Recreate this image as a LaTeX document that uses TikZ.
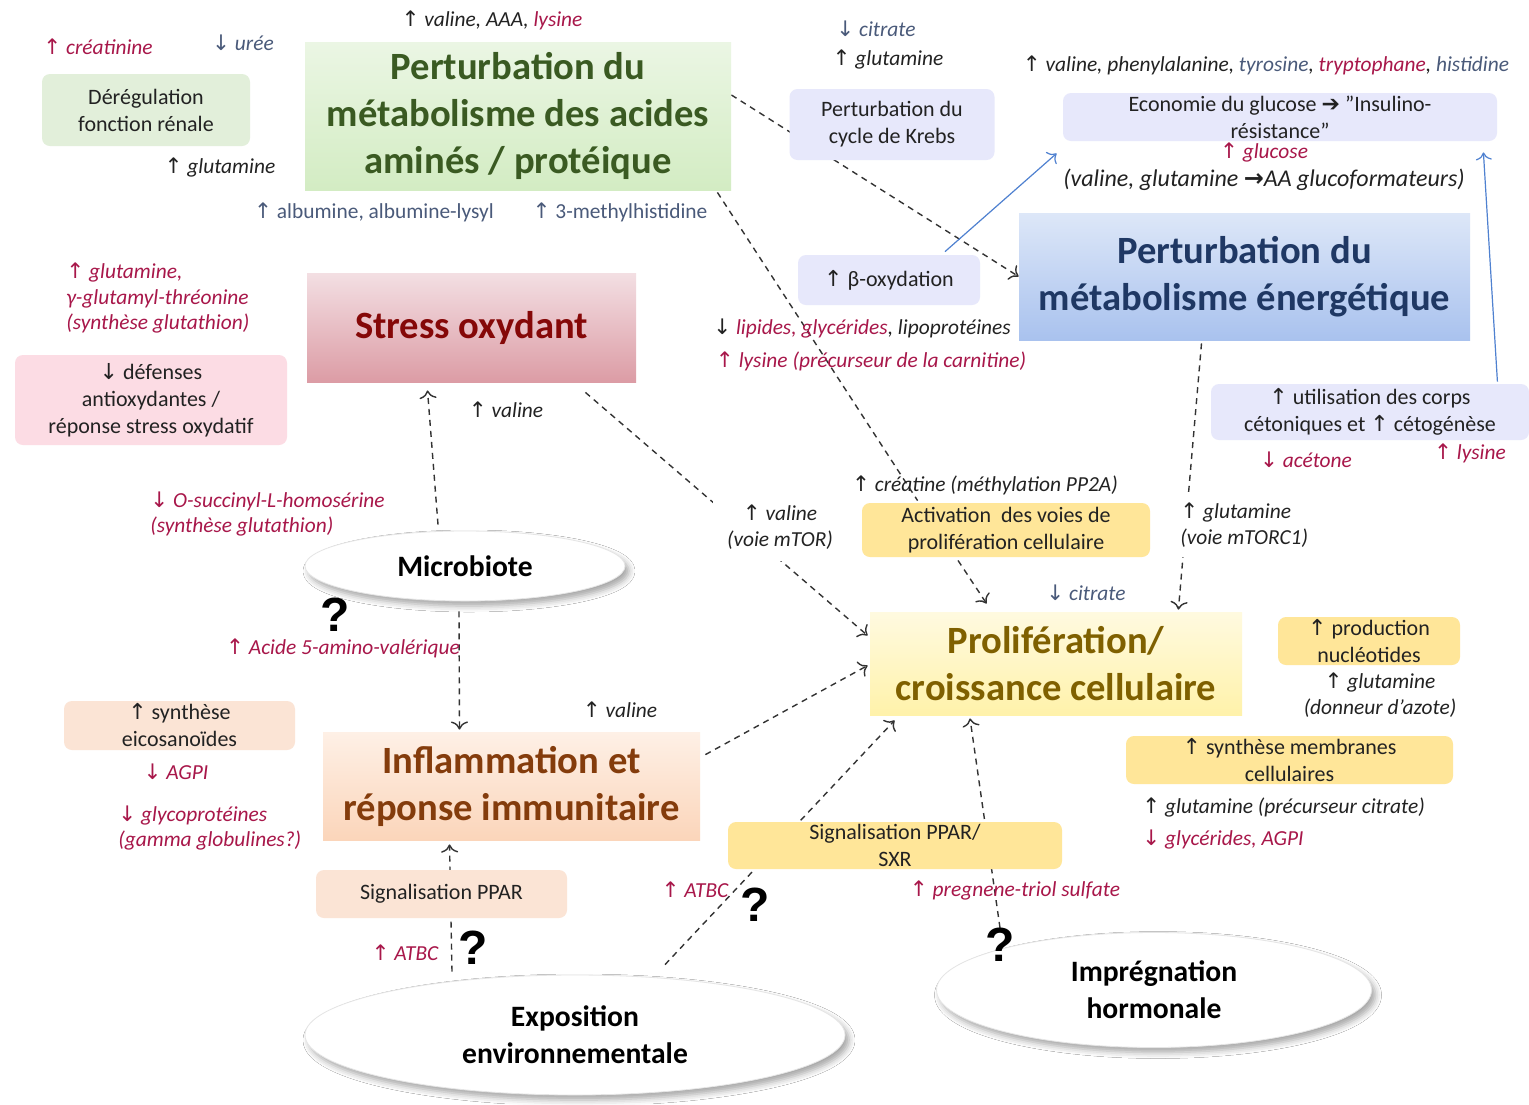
\documentclass[tikz,border=0pt]{standalone}
\usepackage{fontspec}
\setmainfont{Carlito}
\newfontfamily\arrfont{DejaVu Sans}[Scale=1.0]
\newfontfamily\qfont{Liberation Sans}
\usepackage{tikz}
\usetikzlibrary{arrows.meta,shapes.geometric,shadows.blur,backgrounds}

\definecolor{crim}{HTML}{A8174A}
\definecolor{ardoise}{HTML}{4A5A7A}
\definecolor{encre}{HTML}{222222}
\definecolor{bleuf}{HTML}{4F81D0}
\definecolor{vertclair}{HTML}{EBF6E4}
\definecolor{vertfonce}{HTML}{D3ECC3}
\definecolor{vertencre}{HTML}{3A5A22}
\definecolor{vertpale}{HTML}{E2EFDA}
\definecolor{lavande}{HTML}{E7E8FB}
\definecolor{bleuclair}{HTML}{DDE7F8}
\definecolor{bleufonce}{HTML}{A9C2EE}
\definecolor{bleuencre}{HTML}{1F3864}
\definecolor{roseclair}{HTML}{F3DFE3}
\definecolor{rosefonce}{HTML}{DC9CA5}
\definecolor{rougeencre}{HTML}{850808}
\definecolor{rosepale}{HTML}{FCDCE4}
\definecolor{pecheclair}{HTML}{FEF0E6}
\definecolor{pechefonce}{HTML}{FBD5BA}
\definecolor{brunencre}{HTML}{843C0C}
\definecolor{pechepale}{HTML}{FBE4D5}
\definecolor{jauneclair}{HTML}{FFFAE0}
\definecolor{jaunefonce}{HTML}{FFF2AA}
\definecolor{orencre}{HTML}{7F6000}
\definecolor{or}{HTML}{FFE699}

\newcommand{\hausse}{{\arrfont\upshape\char"2191}\ }
\newcommand{\baisse}{{\arrfont\upshape\char"2193}\ }

\tikzset{
  titre/.style={inner sep=0pt, align=center, font=\fontsize{19.3}{23.5}\selectfont\bfseries},
  boite/.style={inner sep=0pt, align=center, rounded corners=4pt, text=encre, font=\fontsize{11}{13.5}\selectfont},
  bulle/.style={ellipse, fill=white, draw=black!10, inner sep=0pt, align=center, text=black,
    font=\fontsize{14.8}{18.5}\selectfont\bfseries,
    blur shadow={shadow xshift=2pt, shadow yshift=-2.5pt, shadow blur radius=3pt, shadow opacity=35}},
  note/.style={inner sep=1pt, text=encre, font=\fontsize{10.7}{12.75}\selectfont\itshape},
  quest/.style={inner sep=0pt, font=\qfont\bfseries\fontsize{24}{24}\selectfont},
  lien/.style={dash pattern=on 3pt off 2.5pt, line width=0.7pt, black!80},
  fleche/.style={lien, -{>[scale=1.3]}},
  bleu/.style={draw=bleuf, line width=0.6pt, -{>[scale=1.3]}},
}

\begin{document}
\begin{tikzpicture}[x=0.5pt, y=-0.5pt]
\useasboundingbox (0,0) rectangle (1529,1104);

\node[titre, minimum width=213pt, minimum height=74pt, top color=vertclair, bottom color=vertfonce, text=vertencre] (amines) at (518,116) {Perturbation du\\métabolisme des acides\\aminés / protéique};
\node[titre, minimum width=225.5pt, minimum height=63.5pt, top color=bleuclair, bottom color=bleufonce, text=bleuencre] (energie) at (1244.5,276.5) {Perturbation du\\métabolisme énergétique};
\node[titre, minimum width=164.5pt, minimum height=54.5pt, top color=roseclair, bottom color=rosefonce, text=rougeencre] (stress) at (471.5,327.5) {Stress oxydant};
\node[titre, minimum width=188.5pt, minimum height=54pt, top color=pecheclair, bottom color=pechefonce, text=brunencre] (inflam) at (511.5,786) {Inflammation et\\réponse immunitaire};
\node[titre, minimum width=186pt, minimum height=51.5pt, top color=jauneclair, bottom color=jaunefonce, text=orencre] (prolif) at (1056,663.5) {Prolifération/\\croissance cellulaire};

\node[boite, fill=vertpale, minimum width=104pt, minimum height=36pt] (renal) at (146,110) {Dérégulation\\fonction rénale};
\node[boite, fill=lavande, minimum width=102.5pt, minimum height=35.5pt] (krebs) at (892,124.5) {Perturbation du\\cycle de Krebs};
\node[boite, fill=lavande, minimum width=217pt, minimum height=24pt] (glucose) at (1280,117) {Economie du glucose {\arrfont\bfseries ➔} ''Insulino-\\résistance''};
\node[boite, fill=lavande, minimum width=91pt, minimum height=25pt] (beta) at (889,280) {\hausse β-oxydation};
\node[boite, fill=lavande, minimum width=159pt, minimum height=28pt] (cetones) at (1370,412) {\hausse utilisation des corps\\cétoniques et \hausse cétogénèse};
\node[boite, fill=rosepale, minimum width=136pt, minimum height=45pt] (defenses) at (151,400) {\baisse défenses\\antioxydantes /\\réponse stress oxydatif};
\node[boite, fill=pechepale, minimum width=115.5pt, minimum height=24.5pt] (eico) at (179.5,725.5) {\hausse synthèse\\eicosanoïdes};
\node[boite, fill=pechepale, minimum width=125.5pt, minimum height=24pt] (ppar) at (441.5,894) {Signalisation PPAR};
\node[boite, fill=or, minimum width=144pt, minimum height=27pt] (activation) at (1006,530) {Activation~ des voies de\\prolifération cellulaire};
\node[boite, fill=or, minimum width=91pt, minimum height=24pt] (nucleo) at (1369,641) {\hausse production\\nucléotides};
\node[boite, fill=or, minimum width=163.5pt, minimum height=24pt] (membranes) at (1289.5,760) {\hausse synthèse membranes\\cellulaires};
\node[boite, fill=or, minimum width=167pt, minimum height=23.5pt] (sxr) at (895,845.5) {Signalisation PPAR/\\SXR};

\node[bulle, minimum width=160pt, minimum height=35pt] (microbiote) at (465,566) {Microbiote};
\node[bulle, minimum width=270pt, minimum height=60pt] (exposition) at (575,1035) {Exposition\\environnementale};
\node[bulle, minimum width=217.5pt, minimum height=57.5pt] (impregnation) at (1154,990) {Imprégnation\\hormonale};

\node[quest] (q1) at (335,615) {?};
\node[quest] (q2) at (473,948) {?};
\node[quest] (q3) at (755,905) {?};
\node[quest] (q4) at (1000,945) {?};

\node[note, text=crim] (creatinine) at (98,47) {\hausse créatinine};
\node[note, text=ardoise] (uree) at (243,43) {\baisse urée};
\node[note] (glnrein) at (220,167) {\hausse glutamine};
\node[note] (valaaa) at (492,20) {\hausse valine, AAA, {\color{crim}lysine}};
\node[note, text=ardoise, font=\fontsize{10.7}{12.75}\selectfont] (albumine) at (374,212) {\hausse albumine, albumine-lysyl};
\node[note, text=ardoise, font=\fontsize{10.7}{12.75}\selectfont] (methylhis) at (620,212) {\hausse 3-methylhistidine};
\node[note, text=ardoise] (citrkrebs) at (876,29) {\baisse citrate};
\node[note] (glnkrebs) at (888,59) {\hausse glutamine};
\node[note] (aromat) at (1266,65) {\hausse valine, phenylalanine, {\color{ardoise}tyrosine}, {\color{crim}tryptophane}, {\color{ardoise}histidine}};
\node[note, text=crim] (glc) at (1264,152) {\hausse glucose};
\node[note, font=\fontsize{12}{14}\selectfont\itshape] (glucoform) at (1264,180) {(valine, glutamine {\arrfont\upshape\bfseries →}AA glucoformateurs)};
\node[note] (lipides) at (862,329) {\baisse {\color{crim}lipides, glycérides}, lipoprotéines};
\node[note, text=crim] (carnitine) at (871,361) {\hausse lysine (précurseur de la carnitine)};
\node[note, text=crim] (acetone) at (1306,460) {\baisse acétone};
\node[note, text=crim] (lyscet) at (1470,453) {\hausse lysine};
\node[note, text=crim, anchor=west, align=left] (glutathion) at (64,298) {\hausse glutamine,\\γ-glutamyl-thréonine\\(synthèse glutathion)};
\node[note] (valstress) at (506,410) {\hausse valine};
\node[note, text=crim, anchor=west, align=left] (succinyl) at (148,514) {\baisse O-succinyl-L-homosérine\\(synthèse glutathion)};
\node[note, text=crim] (valerique) at (343,648) {\hausse Acide 5-amino-valérique};
\node[note, text=crim] (agpi) at (176,772) {\baisse AGPI};
\node[note, text=crim, anchor=west, align=left] (glycoprot) at (116,828) {\baisse glycoprotéines\\(gamma globulines?)};
\node[note] (valinflam) at (620,710) {\hausse valine};
\node[note, text=crim] (atbcppar) at (405,953) {\hausse ATBC};
\node[note] (creatine) at (985,485) {\hausse créatine (méthylation PP2A)};
\node[note, fill=white, align=center, inner xsep=7pt, inner ysep=6pt] (mtor) at (780,527) {\hausse valine\\(voie mTOR)};
\node[note, fill=white, anchor=west, align=left, inner xsep=3pt, inner ysep=5pt] (mtorc) at (1174,525) {\hausse glutamine\\(voie mTORC1)};
\node[note, text=ardoise] (citrprolif) at (1086,593) {\baisse citrate};
\node[note, align=center] (azote) at (1380,695) {\hausse glutamine\\(donneur d’azote)};
\node[note, anchor=west] (precit) at (1140,807) {\hausse glutamine (précurseur citrate)};
\node[note, text=crim, anchor=west] (glyagpi) at (1140,840) {\baisse glycérides, AGPI};
\node[note, text=crim] (atbcsxr) at (695,890) {\hausse ATBC};
\node[note, text=crim] (pregnene) at (1015,890) {\hausse pregnene-triol sulfate};

\begin{scope}[on background layer]
\fill[white] (0,0) rectangle (1529,1104);
\draw[fleche] ([shift={(0,-21)}]amines.east) -- (energie.west);
\draw[lien] ([shift={(-14,2)}]amines.south east) -- ([shift={(56,-2)}]activation.north west);
\draw[fleche] ([shift={(-48,3)}]activation.south) -- ([shift={(117,-8)}]prolif.north west);
\draw[fleche] ([shift={(-51,10)}]stress.south east) -- ([shift={(-2,-28)}]prolif.west);
\draw[fleche] ([shift={(-43,3)}]energie.south) -- ([shift={(-64,-2)}]prolif.north east);
\draw[fleche] ([shift={(-27,-6)}]microbiote.north) -- ([shift={(-44,8)}]stress.south);
\draw[fleche] ([shift={(-6,10)}]microbiote.south) -- ([shift={(-52,-2)}]inflam.north);
\draw[fleche] ([shift={(5,23)}]inflam.north east) -- ([shift={(-2,2)}]prolif.west);
\draw[fleche] ([shift={(90,-10)}]exposition.north) -- ([shift={(25,5)}]prolif.south west);
\draw[fleche] ([shift={(-123,-3)}]exposition.north) -- ([shift={(-62,4)}]inflam.south);
\draw[fleche] (q4.north) -- ([shift={(-86,3)}]prolif.south);
\draw[bleu] ([shift={(56,-3)}]beta.north) -- ([shift={(-6,12)}]glucose.south west);
\draw[bleu] ([shift={(-32,-2)}]cetones.north east) -- ([shift={(-14,11)}]glucose.south east);
\end{scope}
\end{tikzpicture}
\end{document}
